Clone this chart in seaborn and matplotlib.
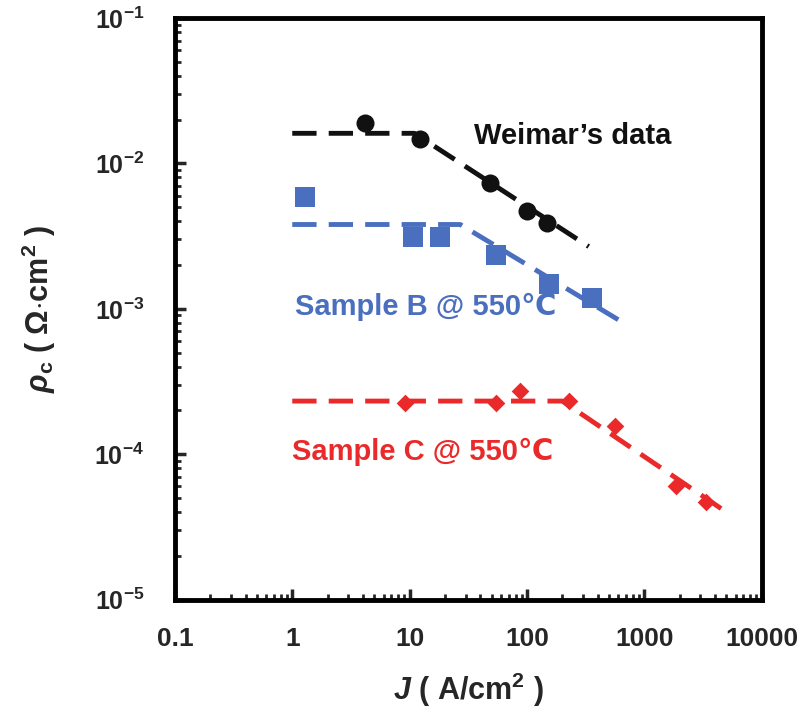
import numpy as np
import pandas as pd
import matplotlib
matplotlib.use("Agg")
import matplotlib.pyplot as plt
import seaborn as sns
from matplotlib.ticker import LogLocator, FixedLocator, FixedFormatter, NullFormatter

### contact resistivity vs current density, log-log

# measured points
weimar_j   = [4.15, 12.2, 48, 100, 148]
weimar_rho = [0.0189, 0.0147, 0.0073, 0.0047, 0.0039]

sampleB_j   = [1.28, 10.6, 18, 55, 153, 356]
sampleB_rho = [0.0059, 0.0031, 0.0031, 0.00236, 0.00149, 0.00119]

sampleC_j   = [9.1, 55, 87, 227, 560, 1850, 3330]
sampleC_rho = [0.000225, 0.000225, 0.000272, 0.000232, 0.000156, 6.0e-5, 4.7e-5]

# guide lines (flat part + slope)
weimar_fit_j   = [1, 11, 336]
weimar_fit_rho = [0.0161, 0.0161, 0.00268]

sampleB_fit_j   = [1, 27, 617]
sampleB_fit_rho = [0.0038, 0.0038, 0.00083]

sampleC_fit_j   = [1, 200, 4570]
sampleC_fit_rho = [0.000232, 0.000232, 4.2e-5]

xticks      = [0.1, 1, 10, 100, 1000, 10000]
xticklabels = ['0.1', '1', '10', '100', '1000', '10000']
yticks      = [1e-5, 1e-4, 1e-3, 1e-2, 1e-1]
yticklabels = [r'$\mathregular{10^{-5}}$', r'$\mathregular{10^{-4}}$',
               r'$\mathregular{10^{-3}}$', r'$\mathregular{10^{-2}}$',
               r'$\mathregular{10^{-1}}$']

sns.set_style("white")
plt.rcParams['font.family'] = ['Liberation Sans', 'DejaVu Sans']
plt.rcParams['font.weight'] = 'bold'
plt.rcParams['axes.unicode_minus'] = False
plt.rcParams['mathtext.fontset'] = 'custom'
plt.rcParams['mathtext.rm'] = 'Liberation Sans:bold'
plt.rcParams['mathtext.bf'] = 'Liberation Sans:bold'
plt.rcParams['mathtext.it'] = 'Liberation Sans:bold:italic'

c_black = '#111111'
c_blue  = '#4a6fbf'
c_red   = '#ea2a2a'

fig = plt.figure(figsize=(8.06, 7.19), dpi=100)
ax  = fig.add_axes([0.217, 0.166, 0.728, 0.809])

series = [
    (weimar_fit_j, weimar_fit_rho, weimar_j, weimar_rho, c_black, 'o', 13),
    (sampleB_fit_j, sampleB_fit_rho, sampleB_j, sampleB_rho, c_blue, 's', 14),
    (sampleC_fit_j, sampleC_fit_rho, sampleC_j, sampleC_rho, c_red, 'D', 9),
]

for fj, frho, j, rho, col, mk, ms in series:
    sns.lineplot(x=fj, y=frho, ax=ax, color=col, lw=3.5,
                 dashes=False, sort=False, estimator=None)
    ax.lines[-1].set_dashes((5, 2.5))
    sns.scatterplot(x=j, y=rho, ax=ax, color=col, marker=mk,
                    s=ms ** 2, edgecolor=col, linewidth=0, zorder=3)

ax.set_xscale('log')
ax.set_yscale('log')
ax.set_xlim(0.1, 10000)
ax.set_ylim(1e-5, 1e-1)

ax.xaxis.set_major_locator(FixedLocator(xticks))
ax.xaxis.set_major_formatter(FixedFormatter(xticklabels))
ax.yaxis.set_major_locator(FixedLocator(yticks))
ax.yaxis.set_major_formatter(FixedFormatter(yticklabels))
ax.xaxis.set_minor_locator(LogLocator(base=10, subs=np.arange(2, 10)))
ax.yaxis.set_minor_locator(LogLocator(base=10, subs=np.arange(2, 10)))
ax.xaxis.set_minor_formatter(NullFormatter())
ax.yaxis.set_minor_formatter(NullFormatter())

ax.tick_params(which='major', direction='in', length=8, width=2.5,
               top=False, right=False, bottom=True, left=True)
ax.tick_params(axis='x', which='major', labelsize=19, pad=20)
ax.tick_params(axis='y', which='major', labelsize=18, pad=22)
ax.tick_params(which='minor', direction='in', length=4, width=2,
               top=False, right=False, bottom=True, left=True)
for sp in ax.spines.values():
    sp.set_linewidth(3.5)
    sp.set_color('black')

ax.set_xlabel(r'$J$ ( A/cm$^{2}$ )', fontsize=22, fontweight='bold', labelpad=14)
ax.set_ylabel(r'$\rho_{\mathregular{c}}$ ( $\Omega$$\cdot$cm$^{2}$ )',
              fontsize=22, fontweight='bold', labelpad=26)

ax.text(0.51, 0.797, "Weimar\u2019s data", transform=ax.transAxes,
        fontsize=21, fontweight='bold', color=c_black, va='center')
ax.text(0.205, 0.504, "Sample B @ 550\u2103", transform=ax.transAxes,
        fontsize=21, fontweight='bold', color=c_blue, va='center')
ax.text(0.200, 0.254, "Sample C @ 550\u2103", transform=ax.transAxes,
        fontsize=21, fontweight='bold', color=c_red, va='center')

plt.savefig('out.png', dpi=100)
